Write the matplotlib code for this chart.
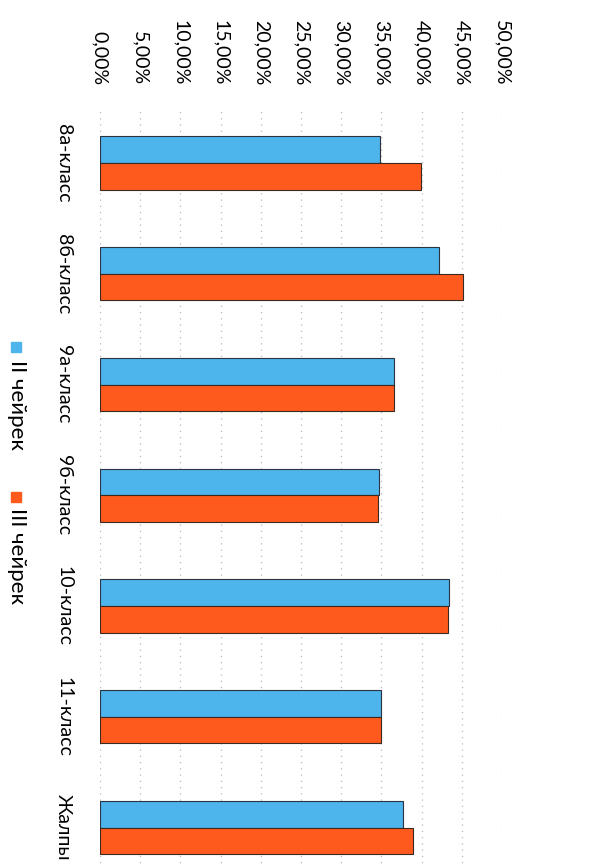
import matplotlib.pyplot as plt
import matplotlib.patches as mpatches
import numpy as np

plt.rcParams['font.family'] = ['Lato', 'DejaVu Sans']

classes = ["8а-класс", "8б-класс", "9а-класс", "9б-класс", "10-класс", "11-класс", "Жалпы"]
q2 = [34.8, 42.2, 36.6, 34.7, 43.4, 34.9, 37.7]
q3 = [39.9, 45.2, 36.6, 34.6, 43.3, 34.9, 38.9]
series_names = ["II чейрек", "III чейрек"]
xticks = [0, 5, 10, 15, 20, 25, 30, 35, 40, 45, 50]

blue = "#4db4ec"
orange = "#ff5a1e"

W, H = 602, 868
fig = plt.figure(figsize=(W / 100, H / 100), dpi=100)
ax = fig.add_axes([100 / W, 1 - 883 / H, 402 / W, (883 - 107.6) / H])

y = np.arange(len(classes))
h = 0.24
ax.barh(y - h / 2, q2, height=h, color=blue, edgecolor="#2a3340", linewidth=0.8)
ax.barh(y + h / 2, q3, height=h, color=orange, edgecolor="#3a2a20", linewidth=0.8)

ax.set_xlim(0, 50)
ax.set_ylim(len(classes) - 0.5, -0.5)

ax.xaxis.tick_top()
ax.set_xticks(xticks)
ax.set_xticklabels([("%.2f%%" % v).replace(".", ",") for v in xticks],
                   rotation=-90, va="bottom", ha="center", fontsize=14)
ax.tick_params(axis="x", length=0, pad=16)

ax.set_yticks(y)
ax.set_yticklabels(classes, rotation=-90, ha="right", va="center", fontsize=14)
ax.tick_params(axis="y", length=0, pad=20)

ax.grid(axis="x", color="#b8b8b8", linestyle=(0, (1, 4)), linewidth=0.9)
ax.set_axisbelow(True)
for s in ax.spines.values():
    s.set_visible(False)

# legend drawn by hand, rotated like the rest of the chart
leg = [(347, 360, blue), (497, 508, orange)]
for (sq, ty, c), name in zip(leg, series_names):
    fig.patches.append(mpatches.Rectangle((11 / W, 1 - (sq + 5) / H), 10 / W, 10 / H,
                                          transform=fig.transFigure, color=c))
    fig.text(17 / W, 1 - ty / H, name, rotation=-90, ha="center", va="top", fontsize=16)

fig.savefig("out.png", dpi=100)
